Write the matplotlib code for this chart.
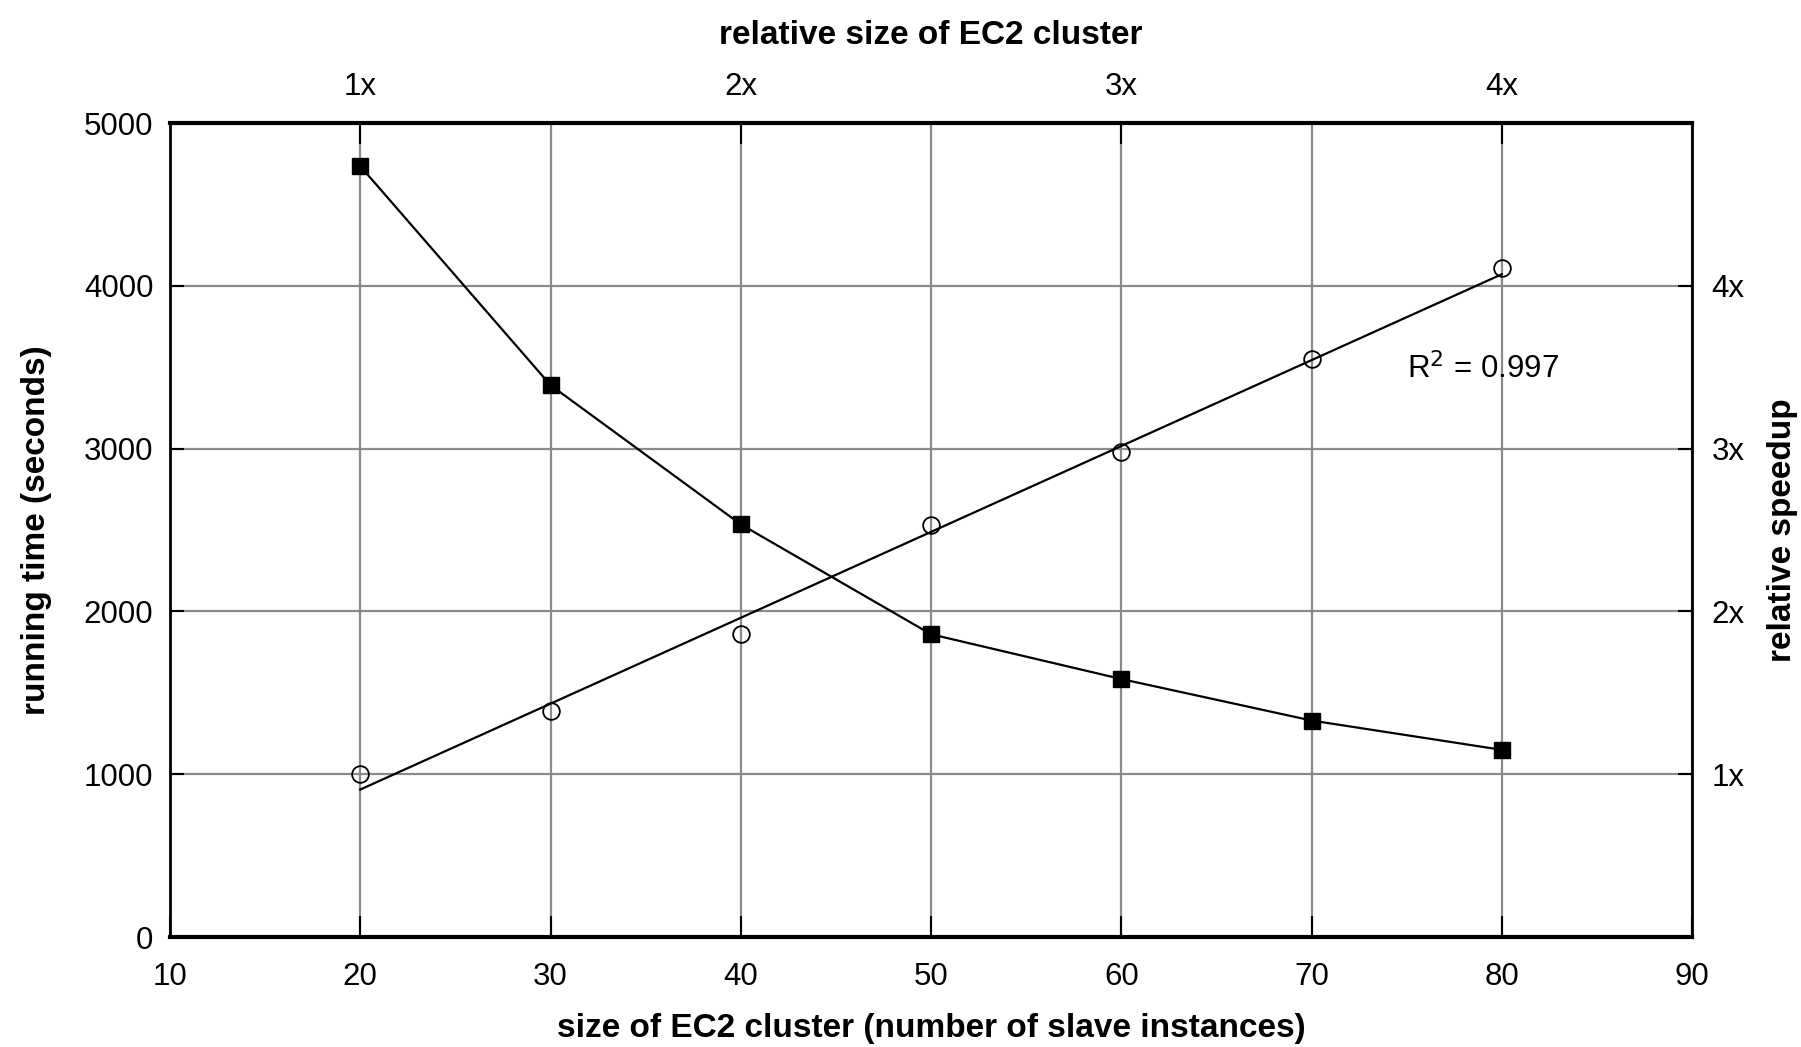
import numpy as np
import matplotlib
matplotlib.use('Agg')
from matplotlib import pyplot as plt

plt.rcParams['font.family'] = ['Liberation Sans', 'DejaVu Sans']

# cluster size (number of slave instances)
nodes = [20, 30, 40, 50, 60, 70, 80]
# running time in seconds (filled squares)
run_time = [4735, 3390, 2535, 1860, 1585, 1330, 1150]
# relative speedup (open circles)
speedup = [1.0, 1.39, 1.86, 2.53, 2.98, 3.55, 4.11]

rel_ticks = [20, 40, 60, 80]
rel_labels = ['1x', '2x', '3x', '4x']
speed_ticks = [1, 2, 3, 4]
speed_labels = ['1x', '2x', '3x', '4x']

fig = plt.figure(figsize=(18.01, 10.47), dpi=100)
ax = fig.add_axes([0.0944, 0.105, 0.8451, 0.7775])

ax.set_xlim(10, 90)
ax.set_ylim(0, 5000)
ax.set_xticks(range(10, 91, 10))
ax.set_yticks(range(0, 5001, 1000))
ax.grid(True, color='#8a8a8a', linewidth=1.6)
ax.set_axisbelow(True)
ax.tick_params(direction='in', length=10, width=1.5, labelsize=22.5, pad=12)
ax.tick_params(axis='x', length=15, pad=18)
for s in ax.spines.values():
    s.set_linewidth(2)
ax.spines['top'].set_linewidth(3)
ax.spines['bottom'].set_linewidth(3)

ax.plot(nodes, run_time, color='black', linewidth=1.6, marker='s',
        markersize=12, markerfacecolor='black', zorder=5)

ax.set_xlabel('size of EC2 cluster (number of slave instances)',
              fontsize=24, fontweight='bold', labelpad=15)
ax.set_ylabel('running time (seconds)', fontsize=24, fontweight='bold', labelpad=23)

# right axis: relative speedup
ax2 = ax.twinx()
ax2.set_ylim(0, 5)
ax2.set_yticks(speed_ticks)
ax2.set_yticklabels(speed_labels)
ax2.tick_params(direction='in', length=10, width=1.5, labelsize=22.5, pad=14)
ax2.plot(nodes, speedup, linestyle='none', marker='o', markersize=12,
         markerfacecolor='none', markeredgecolor='black', markeredgewidth=1.3, zorder=5)
k, b = np.polyfit(nodes, speedup, 1)
fx = np.array([nodes[0], nodes[-1]])
ax2.plot(fx, k * fx + b, color='black', linewidth=1.6, zorder=4)
ax2.text(75, 3.43, r'R$^2$ = 0.997', fontsize=22.5)
ax2.set_ylabel('relative speedup', fontsize=24, fontweight='bold', labelpad=16)

# top axis: relative cluster size
ax3 = ax.twiny()
ax3.set_xlim(10, 90)
ax3.set_xticks(rel_ticks)
ax3.set_xticklabels(rel_labels)
ax3.tick_params(direction='in', length=15, width=1.5, labelsize=22.5, pad=15)
ax3.set_xlabel('relative size of EC2 cluster', fontsize=24, fontweight='bold', labelpad=20)
for a in (ax2, ax3):
    for s in a.spines.values():
        s.set_visible(False)

fig.savefig('out.png', dpi=100, facecolor='white')
